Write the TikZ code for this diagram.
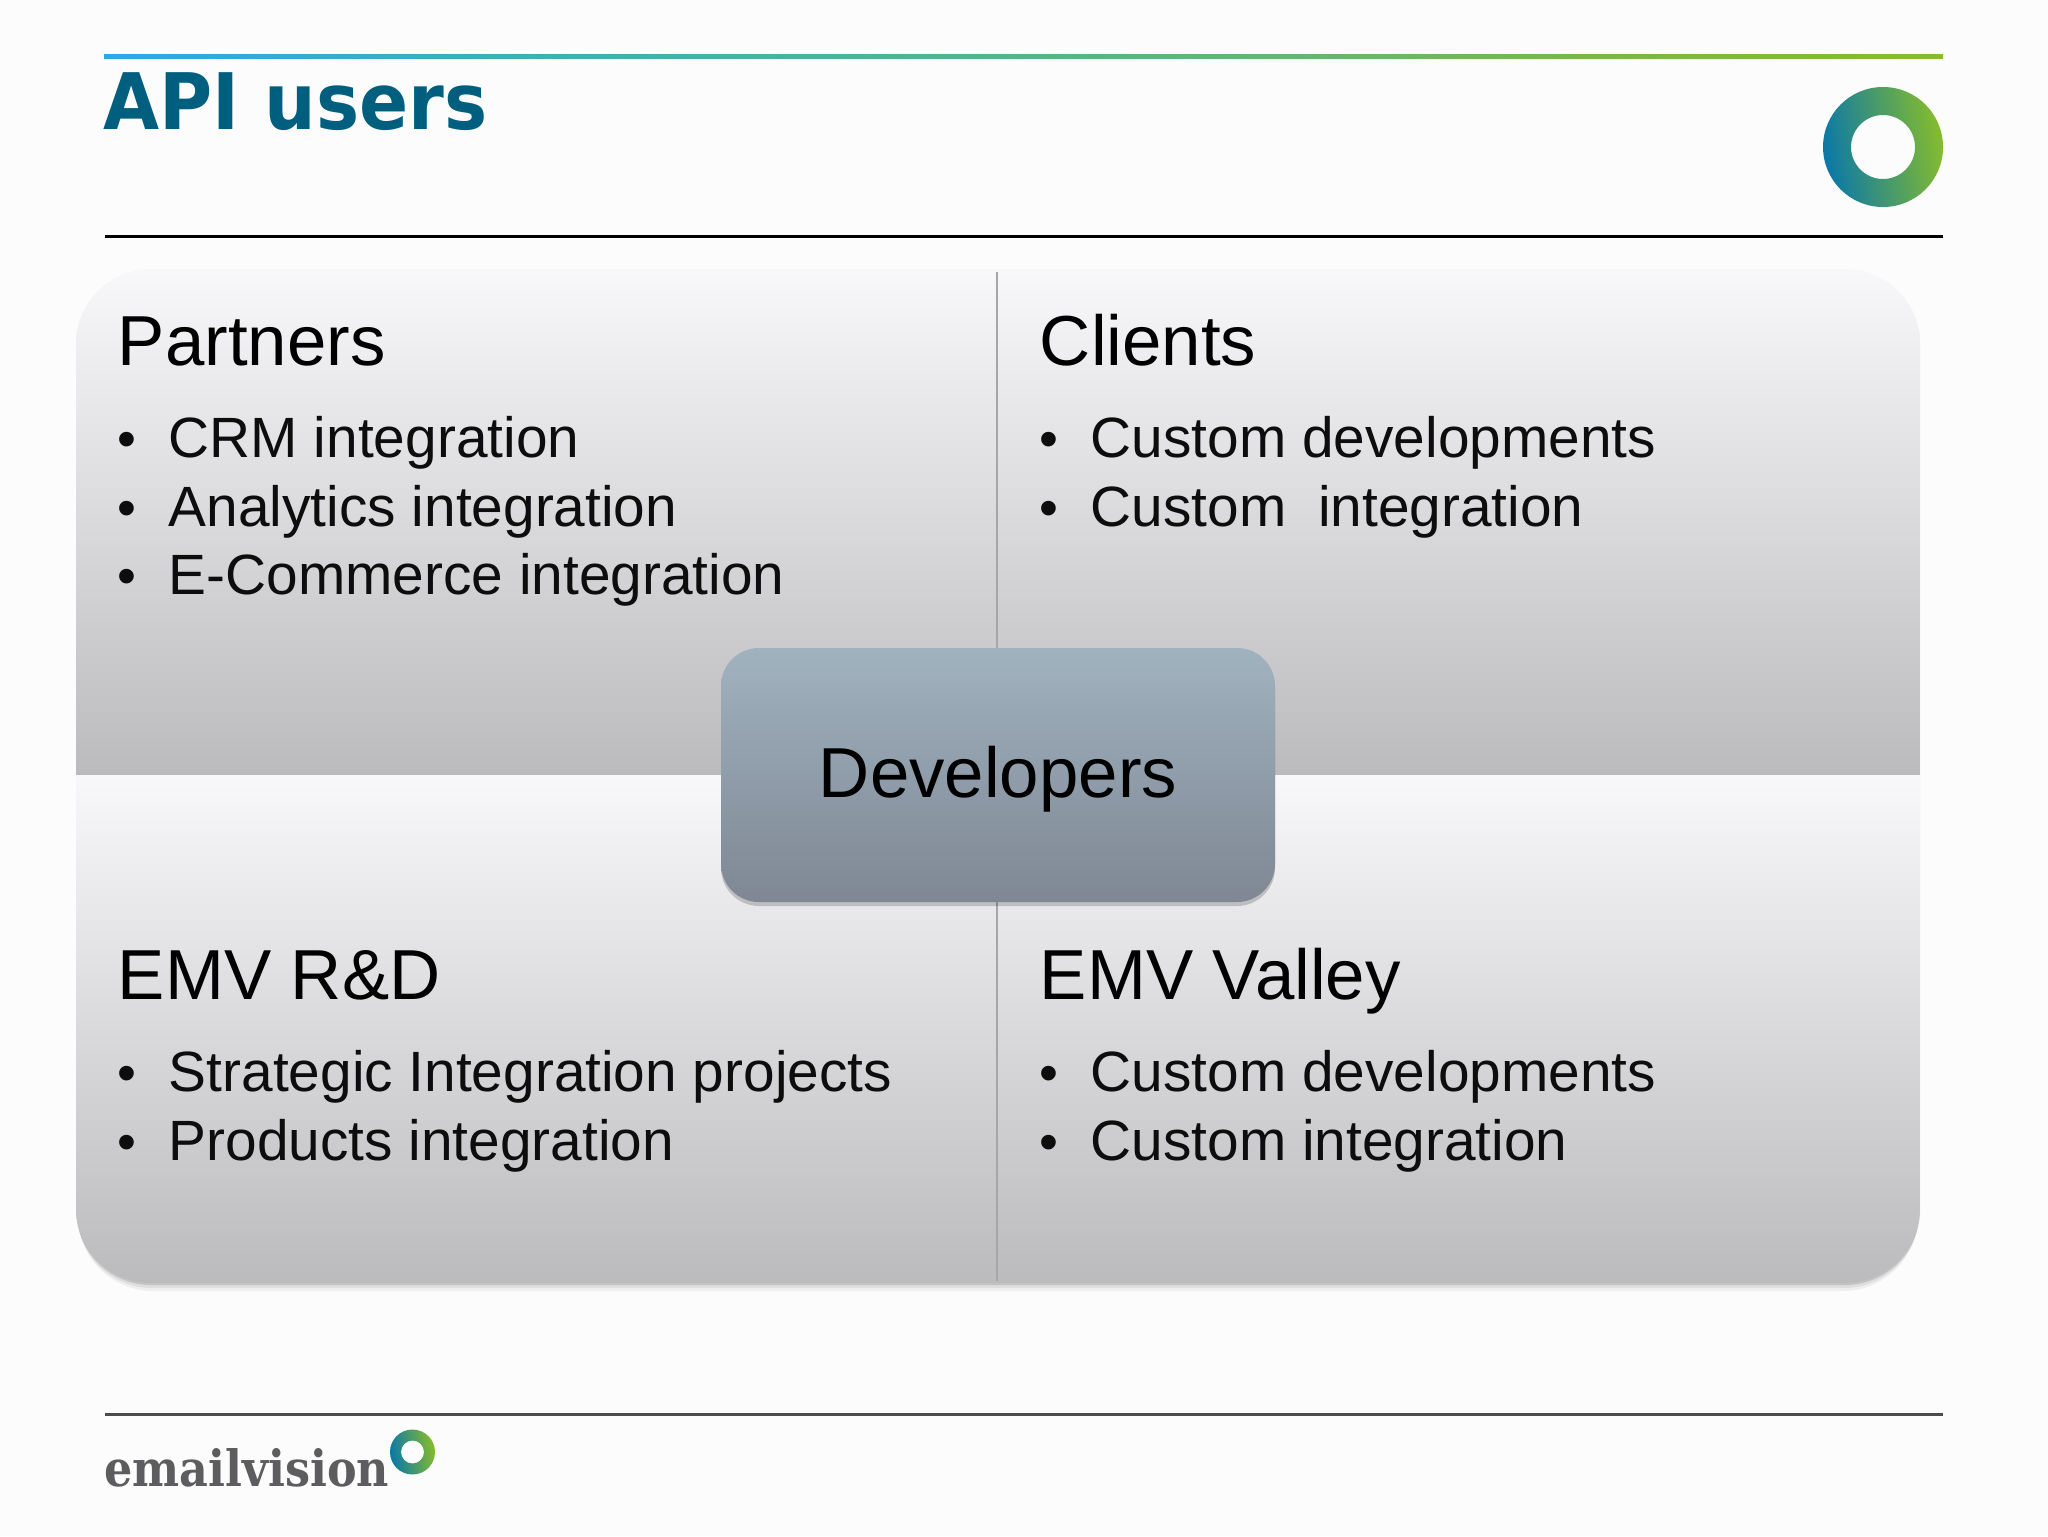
\documentclass[tikz,border=0pt]{standalone}
\usepackage{fontspec}
\setmainfont{Liberation Sans}
\newfontfamily\titlefont{DejaVu Sans}
\newfontfamily\brandfont{DejaVu Serif}
\usetikzlibrary{positioning}
\usetikzlibrary{shadows}
\definecolor{titleBlue}{HTML}{005F7F}
\definecolor{lineCyan}{HTML}{29ABE2}
\definecolor{logoBlue}{HTML}{0A78A8}
\definecolor{logoTeal}{HTML}{1189A6}
\definecolor{logoGreen}{HTML}{86BC2C}
\definecolor{panelTop}{HTML}{F8F7F9}
\definecolor{panelBottom}{HTML}{BBBABC}
\definecolor{devTop}{HTML}{A1B2BF}
\definecolor{devBottom}{HTML}{7F8794}
\definecolor{brandGray}{HTML}{5D5D5F}
\newcommand{\itembullet}{\llap{\scalebox{.95}{\textbullet}\hspace{16.5pt}}}
\tikzstyle{heading} = [inner sep=0pt, anchor=base west, text=black, font=\fontsize{35.4}{35.4}\selectfont]
\tikzstyle{entry} = [inner sep=0pt, anchor=base west, text=black!95, font=\fontsize{28.4}{28.4}\selectfont]
\tikzstyle{divider} = [draw=black!35, line width=1pt]
\tikzstyle{rule} = [line width=1.5pt]
\tikzstyle{ring} = [even odd rule, left color=logoBlue, middle color=logoTeal, right color=logoGreen, shading angle=100]
\tikzstyle{quadrant} = [top color=panelTop, bottom color=panelBottom]
\tikzstyle{devBox} = [rectangle, rounded corners=19pt, minimum width=277pt, minimum height=127pt, inner sep=0pt, top color=devTop, bottom color=devBottom, text=black, font=\fontsize{35.4}{35.4}\selectfont, drop shadow={shadow xshift=0pt, shadow yshift=-2pt, opacity=0.18, fill=black}]

\begin{document}
\begin{tikzpicture}[x=0.5pt, y=-0.5pt]
    \useasboundingbox [fill=white!99!black] (0,0) rectangle (2048,1536);
    \coordinate (rule_l) at (105,236);
    \coordinate (rule_r) at (1943,236);
    \coordinate (foot_l) at (105,1414);
    \coordinate (foot_r) at (1943,1414);
    \coordinate (logo_top) at (1883,147);
    \coordinate (logo_foot) at (412.5,1452);
    \coordinate (div_top) at (997,272);
    \coordinate (div_bot) at (997,1281);
    \shade [left color=lineCyan, middle color=logoTeal, right color=logoGreen] (104,55) rectangle (1943,59);
    \draw [rule, black] (rule_l) -- (rule_r);
    \draw [rule, black!70] (foot_l) -- (foot_r);
    \node (title) [inner sep=0pt, anchor=base west, text=titleBlue, font=\titlefont\bfseries\fontsize{39}{39}\selectfont] at (103,129) {\scalebox{.93}[1]{API users}};
    \node (brand) [inner sep=0pt, anchor=base west, text=brandGray, font=\brandfont\bfseries\fontsize{25}{25}\selectfont] at (104,1486) {\scalebox{.89}[1]{emailvision}};
    \shade [ring] (logo_top) circle [radius=60] (logo_top) circle [radius=32];
    \shade [ring] (logo_foot) circle [radius=22.5] (logo_foot) circle [radius=11.5];
    \fill [black, opacity=.05, rounded corners=37.5pt] (78,275) rectangle (1918,1291);
    \fill [black, opacity=.07, rounded corners=37.5pt] (77,272) rectangle (1919,1288);
    \fill [black, opacity=.12, rounded corners=37.5pt] (76,270) rectangle (1920,1285);
    \begin{scope}
        \clip [rounded corners=37.5pt] (76,269) rectangle (1920,1283);
        \shade [quadrant] (76,269) rectangle (1920,775);
        \shade [quadrant] (76,775) rectangle (1920,1283);
    \end{scope}
    \draw [divider] (div_top) -- (div_bot);
    \node (developers) [devBox] at (998,775) {\raisebox{-11.1pt}[0pt][0pt]{Developers}};
    \node (partners) [heading] at (117.5,365.5) {Partners};
    \node (p_crm) [entry, below right=46pt and 25.5pt of partners.base west, anchor=base west] {\itembullet CRM integration};
    \node (p_analytics) [entry, below=34.3pt of p_crm.base west, anchor=base west] {\itembullet Analytics integration};
    \node (p_commerce) [entry, below=34.3pt of p_analytics.base west, anchor=base west] {\itembullet E-Commerce integration};
    \node (clients) [heading] at (1039.5,365.5) {Clients};
    \node (c_dev) [entry, below right=46pt and 25.5pt of clients.base west, anchor=base west] {\itembullet Custom developments};
    \node (c_int) [entry, below=34.3pt of c_dev.base west, anchor=base west] {\itembullet Custom\ \ integration};
    \node (rnd) [heading] at (117.5,999.5) {EMV R\&D};
    \node (r_projects) [entry, below right=46pt and 25.5pt of rnd.base west, anchor=base west] {\itembullet Strategic Integration projects};
    \node (r_products) [entry, below=34.3pt of r_projects.base west, anchor=base west] {\itembullet Products integration};
    \node (valley) [heading] at (1039.5,999.5) {EMV Valley};
    \node (v_dev) [entry, below right=46pt and 25.5pt of valley.base west, anchor=base west] {\itembullet Custom developments};
    \node (v_int) [entry, below=34.3pt of v_dev.base west, anchor=base west] {\itembullet Custom integration};
\end{tikzpicture}
\end{document}
